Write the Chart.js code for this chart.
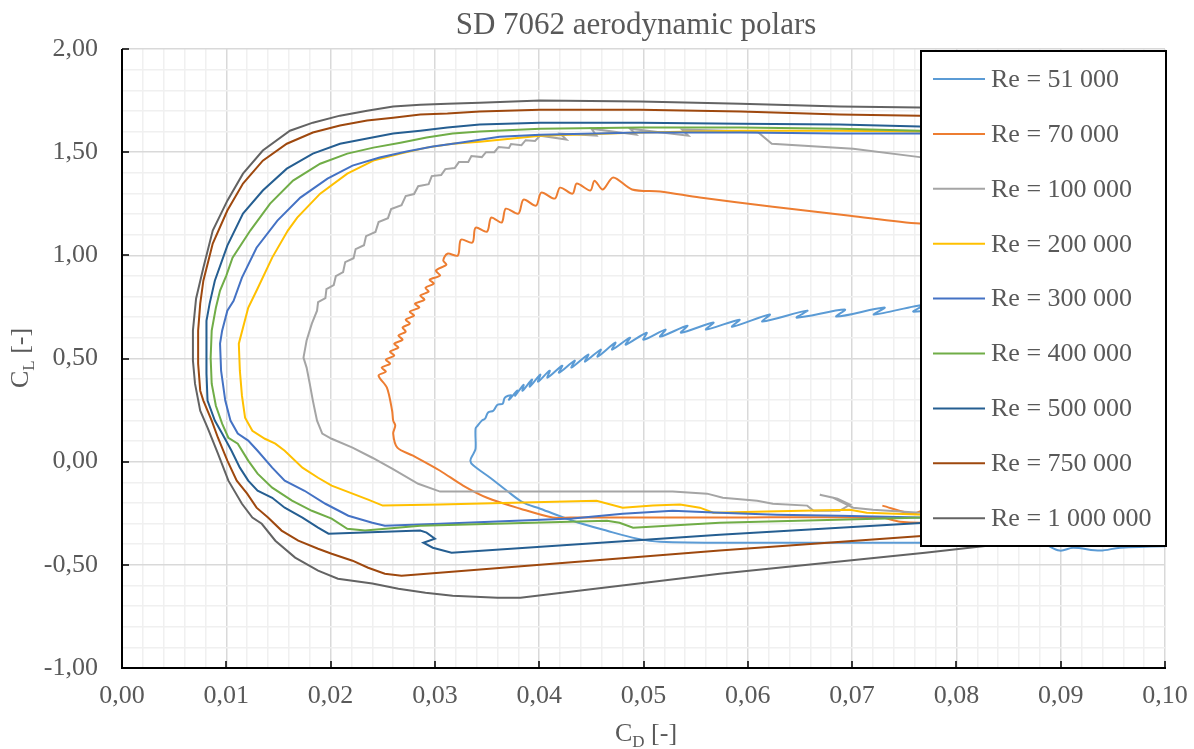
<!DOCTYPE html>
<html><head><meta charset="utf-8">
<script src="https://cdn.jsdelivr.net/npm/chart.js@4/dist/chart.umd.min.js"></script>
<style>html,body{margin:0;padding:0;background:#fff;}canvas{display:block;}</style>
</head><body>
<canvas id="c" width="1194" height="749"></canvas>
<script>
// ---- data: [CD, CL] pairs ----
const seriesLabels = ['Re = 51 000','Re = 70 000','Re = 100 000','Re = 200 000','Re = 300 000','Re = 400 000','Re = 500 000','Re = 750 000','Re = 1 000 000'];
const xTickLabels = ['0,00','0,01','0,02','0,03','0,04','0,05','0,06','0,07','0,08','0,09','0,10'];
const yTickLabels = ['-1,00','-0,50','0,00','0,50','1,00','1,50','2,00'];

const re51 = [[0.1024,-0.407],[0.0957,-0.417],[0.0938,-0.431],[0.0912,-0.417],[0.0899,-0.431],[0.0880,-0.393],[0.0770,-0.393],[0.0593,-0.393],[0.0516,-0.388],[0.0494,-0.373],[0.0465,-0.335],[0.0432,-0.286],[0.0401,-0.228],[0.0385,-0.199],[0.0369,-0.141],[0.0353,-0.078],[0.0337,-0.019],[0.0334,0.005],[0.0337,0.039],[0.0339,0.063],[0.0339,0.160],[0.0341,0.175],[0.0345,0.199],[0.0348,0.208],[0.0351,0.238],[0.0356,0.247],[0.0360,0.276],[0.0365,0.281],[0.0367,0.310],
[0.0373,0.322],[0.0371,0.300],[0.0379,0.345],[0.0377,0.320],[0.0385,0.372],[0.0384,0.344],[0.0393,0.398],[0.0391,0.364],[0.0401,0.422],[0.0399,0.388],[0.0410,0.441],[0.0408,0.407],[0.0422,0.465],[0.0419,0.431],[0.0434,0.490],[0.0431,0.456],[0.0447,0.519],[0.0444,0.485],[0.0459,0.543],[0.0456,0.509],[0.0473,0.577],[0.0470,0.543],[0.0487,0.601],[0.0483,0.567],[0.0503,0.625],[0.0500,0.591],[0.0521,0.640],[0.0516,0.606],[0.0542,0.659],[0.0536,0.625],[0.0567,0.674],[0.0560,0.640],[0.0592,0.688],[0.0585,0.654],[0.0621,0.713],[0.0614,0.679],[0.0657,0.732],[0.0647,0.698],[0.0693,0.737],[0.0685,0.703],[0.0731,0.747],[0.0721,0.713],[0.0769,0.761],[0.0759,0.727],[0.0842,0.780],[0.1024,0.819]];

const re70 = [[0.0729,-0.213],[0.0758,-0.252],[0.0770,-0.233],[0.0842,-0.213],[0.0899,-0.276],[0.0770,-0.296],[0.0746,-0.291],[0.0727,-0.271],[0.0573,-0.271],[0.0430,-0.271],[0.0413,-0.271],[0.0382,-0.228],[0.0350,-0.175],[0.0327,-0.116],[0.0305,-0.044],[0.0279,0.029],[0.0264,0.068],[0.0260,0.136],[0.0262,0.175],[0.0260,0.199],[0.0259,0.247],[0.0254,0.359],[0.0246,0.417],
[0.0253,0.436],[0.0249,0.456],[0.0257,0.475],[0.0253,0.494],[0.0261,0.514],[0.0257,0.533],[0.0265,0.553],[0.0261,0.572],[0.0269,0.591],[0.0265,0.611],[0.0272,0.630],[0.0269,0.650],[0.0276,0.669],[0.0272,0.688],[0.0280,0.708],[0.0276,0.727],[0.0285,0.747],[0.0281,0.766],[0.0290,0.785],[0.0286,0.805],[0.0294,0.824],[0.0291,0.843],[0.0299,0.863],[0.0295,0.882],[0.0305,0.902],[0.0301,0.926],[0.0311,0.955],[0.0308,0.975],[0.0312,1.008],[0.0322,0.999],[0.0325,1.076],[0.0336,1.062],[0.0339,1.134],[0.0350,1.115],[0.0354,1.183],[0.0364,1.159],[0.0368,1.226],[0.0380,1.202],[0.0385,1.270],[0.0397,1.241],[0.0402,1.304],[0.0415,1.275],[0.0420,1.328],[0.0432,1.299],[0.0436,1.348],[0.0449,1.314],[0.0453,1.362],[0.0461,1.319],[0.0471,1.377],[0.0489,1.319],
[0.0516,1.309],[0.0554,1.280],[0.0624,1.236],[0.0698,1.192],[0.0765,1.154],[0.1019,1.091]];

const re100 = [[0.1019,-0.286],[0.0765,-0.247],[0.0720,-0.233],[0.0701,-0.223],[0.0682,-0.175],[0.0669,-0.160],[0.0686,-0.179],[0.0698,-0.208],[0.0688,-0.238],[0.0663,-0.238],[0.0657,-0.213],[0.0624,-0.204],[0.0609,-0.189],[0.0576,-0.175],[0.0561,-0.155],[0.0528,-0.145],[0.0305,-0.145],[0.0284,-0.107],[0.0259,-0.034],[0.0240,0.019],[0.0221,0.068],[0.0201,0.111],[0.0192,0.136],[0.0187,0.199],[0.0185,0.247],[0.0183,0.296],[0.0180,0.378],[0.0177,0.456],[0.0174,0.504],[0.0177,0.587],[0.0182,0.669],[0.0187,0.732],
[0.0188,0.773],[0.0195,0.793],[0.0196,0.836],[0.0203,0.856],[0.0205,0.899],[0.0212,0.919],[0.0214,0.967],[0.0222,0.986],[0.0224,1.030],[0.0232,1.049],[0.0234,1.093],[0.0243,1.113],[0.0246,1.161],[0.0255,1.180],[0.0258,1.224],[0.0268,1.243],[0.0272,1.287],[0.0280,1.297],[0.0284,1.335],[0.0294,1.345],[0.0297,1.384],[0.0306,1.389],[0.0310,1.418],[0.0319,1.423],[0.0323,1.452],[0.0332,1.452],[0.0335,1.481],[0.0345,1.476],[0.0349,1.500],[0.0357,1.500],[0.0361,1.525],[0.0371,1.520],[0.0373,1.539],[0.0383,1.534],[0.0387,1.558],[0.0396,1.554],[0.0401,1.580],
[0.0426,1.561],[0.0420,1.590],[0.0455,1.580],[0.0450,1.614],[0.0493,1.585],[0.0487,1.614],[0.0543,1.580],[0.0537,1.609],[0.0609,1.600],[0.0623,1.541],[0.0701,1.517],[0.0765,1.476],[0.1019,1.372]];

const re200 = [[0.1019,-0.271],[0.0770,-0.257],[0.0714,-0.247],[0.0698,-0.233],[0.0618,-0.242],[0.0567,-0.247],[0.0554,-0.223],[0.0535,-0.208],[0.0509,-0.213],[0.0480,-0.223],[0.0455,-0.189],[0.0305,-0.208],[0.0250,-0.213],[0.0236,-0.184],[0.0221,-0.155],[0.0201,-0.116],[0.0188,-0.078],[0.0173,-0.029],[0.0156,0.053],[0.0147,0.087],[0.0137,0.111],[0.0125,0.150],[0.0118,0.213],[0.0115,0.320],[0.0113,0.441],[0.0112,0.572],[0.0121,0.746],[0.0130,0.839],[0.0144,0.989],[0.0159,1.120],[0.0168,1.183],[0.0190,1.299],[0.0216,1.396],[0.0241,1.459],[0.0267,1.493],[0.0292,1.522],[0.0317,1.541],[0.0343,1.551],[0.0401,1.580],[0.0497,1.595],[0.0593,1.604],[0.0688,1.604],[0.0765,1.600],[0.1024,1.590]];

const re300 = [[0.1019,-0.271],[0.0765,-0.271],[0.0688,-0.262],[0.0628,-0.257],[0.0573,-0.247],[0.0528,-0.238],[0.0480,-0.252],[0.0432,-0.276],[0.0305,-0.301],[0.0252,-0.310],[0.0240,-0.296],[0.0217,-0.262],[0.0195,-0.204],[0.0175,-0.141],[0.0156,-0.092],[0.0144,-0.029],[0.0130,0.053],[0.0121,0.102],[0.0111,0.136],[0.0104,0.199],[0.0099,0.296],[0.0095,0.441],[0.0094,0.572],[0.0096,0.635],[0.0101,0.732],[0.0107,0.780],[0.0115,0.892],[0.0129,1.037],[0.0149,1.168],[0.0171,1.280],[0.0197,1.372],[0.0221,1.435],[0.0247,1.474],[0.0273,1.503],[0.0298,1.527],[0.0324,1.546],[0.0362,1.575],[0.0401,1.585],[0.0497,1.595],[0.0593,1.595],[0.0688,1.590],[0.0765,1.590],[0.1024,1.580]];

const re400 = [[0.1019,-0.238],[0.0770,-0.271],[0.0573,-0.296],[0.0490,-0.320],[0.0477,-0.296],[0.0465,-0.286],[0.0286,-0.310],[0.0233,-0.334],[0.0216,-0.325],[0.0201,-0.276],[0.0182,-0.238],[0.0163,-0.189],[0.0144,-0.126],[0.0130,-0.058],[0.0121,0.005],[0.0111,0.087],[0.0102,0.116],[0.0096,0.184],[0.0090,0.271],[0.0086,0.378],[0.0085,0.504],[0.0086,0.635],[0.0090,0.746],[0.0094,0.829],[0.0100,0.902],[0.0106,0.989],[0.0123,1.120],[0.0142,1.251],[0.0164,1.362],[0.0190,1.444],[0.0216,1.493],[0.0241,1.522],[0.0267,1.546],[0.0292,1.571],[0.0317,1.590],[0.0343,1.600],[0.0401,1.614],[0.0497,1.619],[0.0593,1.619],[0.0688,1.614],[0.0765,1.604],[0.1024,1.590]];

const re500 = [[0.1019,-0.213],[0.0770,-0.296],[0.0573,-0.354],[0.0316,-0.441],[0.0298,-0.417],[0.0289,-0.393],[0.0300,-0.373],[0.0292,-0.344],[0.0286,-0.334],[0.0198,-0.349],[0.0188,-0.320],[0.0173,-0.271],[0.0156,-0.223],[0.0144,-0.175],[0.0130,-0.141],[0.0121,-0.092],[0.0113,-0.029],[0.0105,0.053],[0.0096,0.136],[0.0089,0.199],[0.0082,0.296],[0.0081,0.427],[0.0081,0.553],[0.0081,0.683],[0.0084,0.766],[0.0089,0.877],[0.0101,1.047],[0.0116,1.202],[0.0135,1.314],[0.0158,1.420],[0.0183,1.493],[0.0209,1.541],[0.0235,1.566],[0.0260,1.590],[0.0286,1.604],[0.0312,1.619],[0.0343,1.634],[0.0401,1.643],[0.0497,1.643],[0.0593,1.638],[0.0688,1.634],[0.0765,1.624],[0.1024,1.604]];

const re750 = [[0.1019,-0.262],[0.0770,-0.359],[0.0573,-0.431],[0.0268,-0.553],[0.0252,-0.543],[0.0236,-0.514],[0.0221,-0.480],[0.0201,-0.446],[0.0188,-0.422],[0.0169,-0.383],[0.0153,-0.334],[0.0140,-0.271],[0.0129,-0.223],[0.0120,-0.155],[0.0110,-0.092],[0.0101,0.005],[0.0092,0.116],[0.0086,0.199],[0.0078,0.296],[0.0075,0.344],[0.0073,0.475],[0.0073,0.635],[0.0075,0.766],[0.0078,0.877],[0.0087,1.057],[0.0101,1.217],[0.0116,1.348],[0.0135,1.459],[0.0158,1.541],[0.0183,1.595],[0.0209,1.629],[0.0235,1.653],[0.0260,1.667],[0.0286,1.682],[0.0312,1.687],[0.0343,1.697],[0.0401,1.706],[0.0497,1.706],[0.0593,1.697],[0.0688,1.682],[0.0765,1.677],[0.1024,1.643]];

const re1000 = [[0.1019,-0.300],[0.0770,-0.441],[0.0573,-0.543],[0.0382,-0.659],[0.0360,-0.659],[0.0317,-0.650],[0.0291,-0.635],[0.0265,-0.616],[0.0240,-0.591],[0.0207,-0.567],[0.0188,-0.528],[0.0166,-0.465],[0.0147,-0.383],[0.0134,-0.301],[0.0125,-0.271],[0.0115,-0.204],[0.0102,-0.092],[0.0092,0.039],[0.0082,0.165],[0.0075,0.247],[0.0070,0.378],[0.0068,0.490],[0.0068,0.635],[0.0071,0.790],[0.0078,0.940],[0.0087,1.120],[0.0101,1.265],[0.0116,1.396],[0.0135,1.508],[0.0161,1.604],[0.0183,1.643],[0.0209,1.677],[0.0235,1.701],[0.0260,1.721],[0.0286,1.730],[0.0312,1.735],[0.0343,1.740],[0.0401,1.750],[0.0497,1.745],[0.0593,1.735],[0.0688,1.721],[0.0765,1.716],[0.1024,1.670]];

const seriesData = [re51, re70, re100, re200, re300, re400, re500, re750, re1000];
const seriesColors = ['#5B9BD5','#ED7D31','#A5A5A5','#FFC000','#4472C4','#70AD47','#255E91','#9E480E','#636363'];
const seriesTension = [0.35, 0.3, 0, 0, 0, 0, 0, 0, 0];

const SERIF = '"Liberation Serif","Times New Roman",serif';
const TXT = '#595959';

const decor = {
  id: 'decor',
  afterDraw(chart) {
    const ctx = chart.ctx, a = chart.chartArea, xs = chart.scales.x, ys = chart.scales.y;
    ctx.save();
    ctx.strokeStyle = '#000'; ctx.lineWidth = 2;
    ctx.beginPath();
    ctx.moveTo(a.left, a.top); ctx.lineTo(a.left, a.bottom);
    ctx.lineTo(a.right + 1, a.bottom);
    ctx.stroke();
    ctx.lineWidth = 1.5;
    ctx.beginPath();
    xTickLabels.forEach((_, i) => { const px = Math.round(xs.getPixelForValue(i * 0.01)); ctx.moveTo(px, a.bottom); ctx.lineTo(px, a.bottom - 7); });
    yTickLabels.forEach((_, i) => { const py = Math.round(ys.getPixelForValue(-1 + i * 0.5)); ctx.moveTo(a.left, py); ctx.lineTo(a.left + 7, py); });
    ctx.stroke();
    ctx.fillStyle = TXT;
    ctx.font = '31px ' + SERIF;
    ctx.textAlign = 'center'; ctx.textBaseline = 'alphabetic';
    ctx.fillText('SD 7062 aerodynamic polars', 636, 34);
    function subTitle(main, sub, rest) {
      ctx.font = '26px ' + SERIF; const w1 = ctx.measureText(main).width, w3 = ctx.measureText(rest).width;
      ctx.font = '17px ' + SERIF; const w2 = ctx.measureText(sub).width;
      let x = -(w1 + w2 + w3) / 2;
      ctx.textAlign = 'left';
      ctx.font = '26px ' + SERIF; ctx.fillText(main, x, 0); x += w1;
      ctx.font = '17px ' + SERIF; ctx.fillText(sub, x, 6); x += w2;
      ctx.font = '26px ' + SERIF; ctx.fillText(rest, x, 0);
    }
    ctx.save(); ctx.translate(646, 741); subTitle('C', 'D', ' [-]'); ctx.restore();
    ctx.save(); ctx.translate(28, 358); ctx.rotate(-Math.PI / 2); subTitle('C', 'L', ' [-]'); ctx.restore();
    const lx = 921, ly = 51, lw = 245, lh = 495;
    ctx.fillStyle = '#fff'; ctx.fillRect(lx, ly, lw, lh);
    ctx.strokeStyle = '#000'; ctx.lineWidth = 2; ctx.strokeRect(lx, ly, lw, lh);
    chart.data.datasets.forEach((ds, i) => {
      const y = 79 + i * 54.9;
      ctx.strokeStyle = ds.borderColor; ctx.lineWidth = 2;
      ctx.beginPath(); ctx.moveTo(933, y); ctx.lineTo(985, y); ctx.stroke();
      ctx.fillStyle = TXT; ctx.font = '26px ' + SERIF; ctx.textAlign = 'left'; ctx.textBaseline = 'middle';
      ctx.fillText(ds.label, 991, y + 1);
    });
    ctx.restore();
  }
};

new Chart(document.getElementById('c'), {
  type: 'scatter',
  data: {
    datasets: seriesData.map((arr, i) => ({
      label: seriesLabels[i],
      data: arr.map(p => ({ x: p[0], y: p[1] })),
      showLine: true,
      borderColor: seriesColors[i],
      backgroundColor: seriesColors[i],
      borderWidth: 2,
      pointRadius: 0,
      pointHoverRadius: 0,
      tension: seriesTension[i],
      fill: false,
      order: seriesData.length - i
    }))
  },
  options: {
    responsive: false,
    animation: false,
    devicePixelRatio: 1,
    layout: { padding: { top: 49, right: 29, left: 0, bottom: 0 } },
    plugins: { legend: { display: false }, title: { display: false }, tooltip: { enabled: false } },
    scales: {
      x: {
        type: 'linear', min: 0, max: 0.1,
        afterFit(s) { s.height = 81; s.paddingLeft = 0; s.paddingRight = 0; },
        border: { display: false },
        grid: {
          drawTicks: false,
          color: c => (c.index % 5 === 0 ? '#D9D9D9' : '#F0F0F0'),
          lineWidth: 1.5
        },
        ticks: {
          stepSize: 0.002, autoSkip: false, maxRotation: 0, minRotation: 0, padding: 13,
          color: TXT, font: { family: SERIF, size: 26 },
          callback: (v, i) => (i % 5 === 0 ? xTickLabels[i / 5] : '')
        }
      },
      y: {
        type: 'linear', min: -1, max: 2,
        afterFit(s) { s.width = 122; },
        border: { display: false },
        grid: {
          drawTicks: false,
          color: c => (c.index % 5 === 0 ? '#D9D9D9' : '#F0F0F0'),
          lineWidth: 1.5
        },
        ticks: {
          stepSize: 0.1, autoSkip: false, padding: 24,
          color: TXT, font: { family: SERIF, size: 26 },
          callback: (v, i) => (i % 5 === 0 ? yTickLabels[i / 5] : '')
        }
      }
    }
  },
  plugins: [decor]
});
</script>
</body></html>
